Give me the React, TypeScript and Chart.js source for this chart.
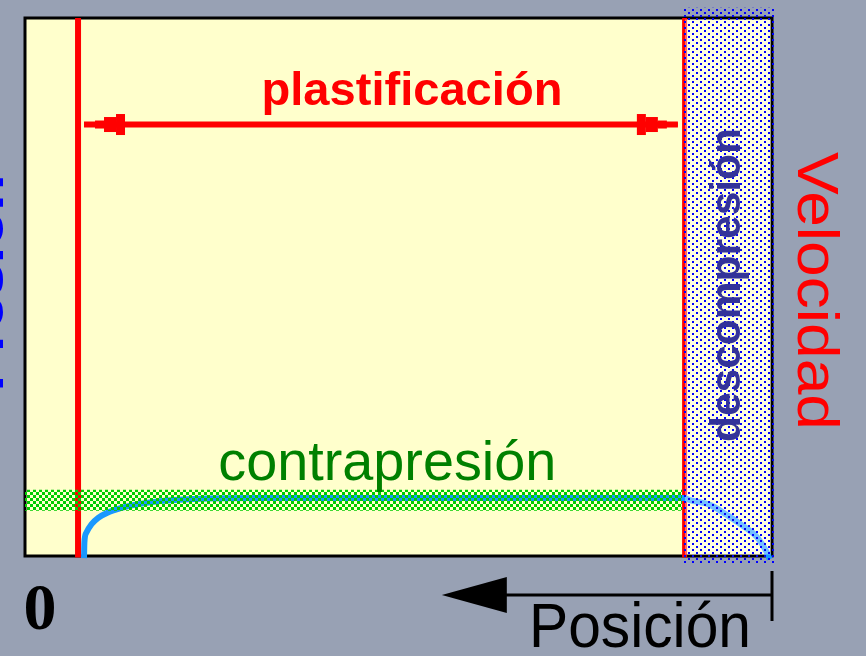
import React, { useEffect, useRef } from "react";
import { Chart, registerables } from "chart.js";

Chart.register(...registerables);

// ---- data (x: position 0..100, y: velocity 0..100) ----
const curveX = [7.9, 7.95, 8.2, 8.9, 9.8, 11.1, 12.8, 15.0, 18.1, 22.5, 31.5, 88.2, 89.0, 91.7, 94.0, 96.1, 98.0, 99.3, 99.7];
const curveY = [-0.4, 2.5, 4.3, 5.9, 7.1, 8.1, 8.9, 9.6, 10.2, 10.6, 10.8, 10.8, 10.4, 9.5, 7.6, 5.6, 3.5, 0.7, -0.6];
const redLinesX = [7.1, 88.3];
const bandX = [0, 87.95];
const bandY = [8.4, 12.3];
const arrowX = [7.9, 87.4];
const arrowY = 80.2;
const decompX = [87.95, 100.3];
const decompY = [-1.3, 101.9];
const posArrowX = [55.8, 100];
const zeroLabelX = 2.0;

const labels = {
  plast: "plastificación",
  contra: "contrapresión",
  decomp: "descompresión",
  vel: "Velocidad",
  pos: "Posición",
  zero: "0",
  left: "Presión",
};

const SANS = '"Liberation Sans", Arial, sans-serif';
const SERIF = '"Liberation Serif", "Times New Roman", serif';

function fitText(
  ctx: CanvasRenderingContext2D,
  text: string,
  x: number,
  y: number,
  font: string,
  width: number,
  color: string,
  rot: number
) {
  ctx.save();
  ctx.font = font;
  const w = ctx.measureText(text).width;
  ctx.translate(x, y);
  ctx.rotate(rot);
  ctx.scale(width / w, 1);
  ctx.fillStyle = color;
  ctx.textAlign = "center";
  ctx.textBaseline = "alphabetic";
  ctx.fillText(text, 0, 0);
  ctx.restore();
}

function makePattern(w: number, h: number, color: string, dot: number, offsets: number[][]) {
  const c = document.createElement("canvas");
  c.width = w;
  c.height = h;
  const g = c.getContext("2d")!;
  g.fillStyle = color;
  offsets.forEach(([ox, oy]) => g.fillRect(ox, oy, dot, dot));
  return c;
}

export default function App() {
  const ref = useRef<HTMLCanvasElement>(null);

  useEffect(() => {
    const canvas = ref.current!;
    const ctx = canvas.getContext("2d")!;
    const greenTile = makePattern(6, 6, "#00cc00", 3, [[0, 0], [3, 3]]);
    const dotTile = makePattern(8, 6, "#0000ff", 2, [[0, 0], [4, 3]]);
    const greenPattern = ctx.createPattern(greenTile, "repeat")!;
    const dotPattern = ctx.createPattern(dotTile, "repeat")!;

    const diagram = {
      id: "diagram",
      beforeDraw(chart: any) {
        const { ctx: c, chartArea: a, width, height } = chart;
        c.save();
        c.fillStyle = "rgb(152,161,180)";
        c.fillRect(0, 0, width, height);
        c.fillStyle = "#ffffcc";
        c.fillRect(a.left, a.top, a.right - a.left, a.bottom - a.top);
        c.strokeStyle = "#000";
        c.lineWidth = 3;
        c.strokeRect(a.left, a.top, a.right - a.left, a.bottom - a.top);
        c.restore();
      },
      afterDatasetsDraw(chart: any) {
        const { ctx: c, chartArea: a } = chart;
        const xs = chart.scales.x;
        const ys = chart.scales.y;
        c.save();

        // stepped arrow heads of the plastificación arrow
        const ay = ys.getPixelForValue(arrowY);
        const steps = [[0, 11, 2], [11, 20, 4], [20, 32, 7.5], [32, 41, 10.5]];
        c.fillStyle = "#ff0000";
        const lx = xs.getPixelForValue(arrowX[0]);
        const rx = xs.getPixelForValue(arrowX[1]);
        steps.forEach(([s0, s1, h]) => {
          c.fillRect(lx + s0, ay - h, s1 - s0, 2 * h);
          c.fillRect(rx - s1, ay - h, s1 - s0, 2 * h);
        });

        // dotted decompression zone
        const dx0 = xs.getPixelForValue(decompX[0]);
        const dx1 = xs.getPixelForValue(decompX[1]);
        const dy0 = ys.getPixelForValue(decompY[1]);
        const dy1 = ys.getPixelForValue(decompY[0]);
        c.fillStyle = "rgba(255,255,255,0.4)";
        c.fillRect(dx0 + 3, a.top + 1.5, a.right - dx0 - 4.5, a.bottom - a.top - 3);
        c.fillStyle = dotPattern;
        c.fillRect(dx0, dy0, dx1 - dx0, dy1 - dy0);

        // texts
        fitText(c, labels.plast, xs.getPixelForValue(51.8), ys.getPixelForValue(83.8), `bold 46px ${SANS}`, 301, "#ff0000", 0);
        fitText(c, labels.contra, xs.getPixelForValue(48.5), ys.getPixelForValue(14.1), `56px ${SANS}`, 338, "#008000", 0);
        fitText(c, labels.decomp, (dx0 + dx1) / 2 + 12, 285, `bold 42px ${SANS}`, 314, "#333399", -Math.PI / 2);
        fitText(c, labels.vel, a.right + 26, 291, `58px ${SANS}`, 278, "#ff0000", Math.PI / 2);
        fitText(c, labels.left, 3, 283, `bold 50px ${SANS}`, 217, "#0000ff", -Math.PI / 2);

        // position axis arrow
        const py = a.bottom + 39;
        const tipX = xs.getPixelForValue(posArrowX[0]);
        const endX = xs.getPixelForValue(posArrowX[1]);
        c.fillStyle = "#000";
        c.fillRect(tipX + 60, py - 1.5, endX - tipX - 60, 3);
        c.beginPath();
        c.moveTo(tipX, py);
        c.lineTo(tipX + 65, py - 18);
        c.lineTo(tipX + 65, py + 18);
        c.closePath();
        c.fill();
        c.fillRect(endX - 1.5, py - 24, 3, 50);

        fitText(c, labels.pos, 640, 647, `63px ${SANS}`, 222, "#000", 0);
        c.font = `bold 66px ${SERIF}`;
        c.fillStyle = "#000";
        c.textAlign = "center";
        c.fillText(labels.zero, xs.getPixelForValue(zeroLabelX), 629);

        c.restore();
      },
    };

    const chart = new Chart(ctx, {
      type: "scatter",
      data: {
        datasets: [
          {
            label: "contrapresión",
            data: bandX.map((x) => ({ x, y: bandY[1] })),
            showLine: true,
            borderWidth: 0,
            borderColor: "rgba(0,0,0,0)",
            backgroundColor: greenPattern as any,
            fill: { value: bandY[0] } as any,
            pointRadius: 0,
            order: 1,
          },
          {
            label: "velocidad",
            data: curveX.map((x, i) => ({ x, y: curveY[i] })),
            showLine: true,
            borderColor: "#1a98ff",
            borderWidth: 6,
            cubicInterpolationMode: "monotone",
            pointRadius: 0,
            clip: false as any,
            order: 2,
          },
          ...redLinesX.map((x, i) => ({
            label: "red" + i,
            data: [{ x, y: -0.3 }, { x, y: 100 }],
            showLine: true,
            borderColor: "#ff0000",
            borderWidth: i === 0 ? 6 : 5,
            pointRadius: 0,
            clip: false as any,
            order: 3,
          })),
          {
            label: "plastificación",
            data: arrowX.map((x) => ({ x, y: arrowY })),
            showLine: true,
            borderColor: "#ff0000",
            borderWidth: 6,
            pointRadius: 0,
            order: 4,
          },
        ],
      },
      options: {
        responsive: false,
        animation: false,
        devicePixelRatio: 1,
        layout: { padding: { left: 25, top: 18, right: 94, bottom: 100 } },
        scales: {
          x: { type: "linear", min: 0, max: 100, display: false },
          y: { type: "linear", min: 0, max: 100, display: false },
        },
        plugins: { legend: { display: false }, tooltip: { enabled: false } },
      },
      plugins: [diagram],
    });
    return () => chart.destroy();
  }, []);

  return (
    <div style={{ position: "fixed", left: 0, top: 0, width: 866, height: 656 }}>
      <canvas ref={ref} width={866} height={656} style={{ display: "block", width: 866, height: 656 }} />
    </div>
  );
}
